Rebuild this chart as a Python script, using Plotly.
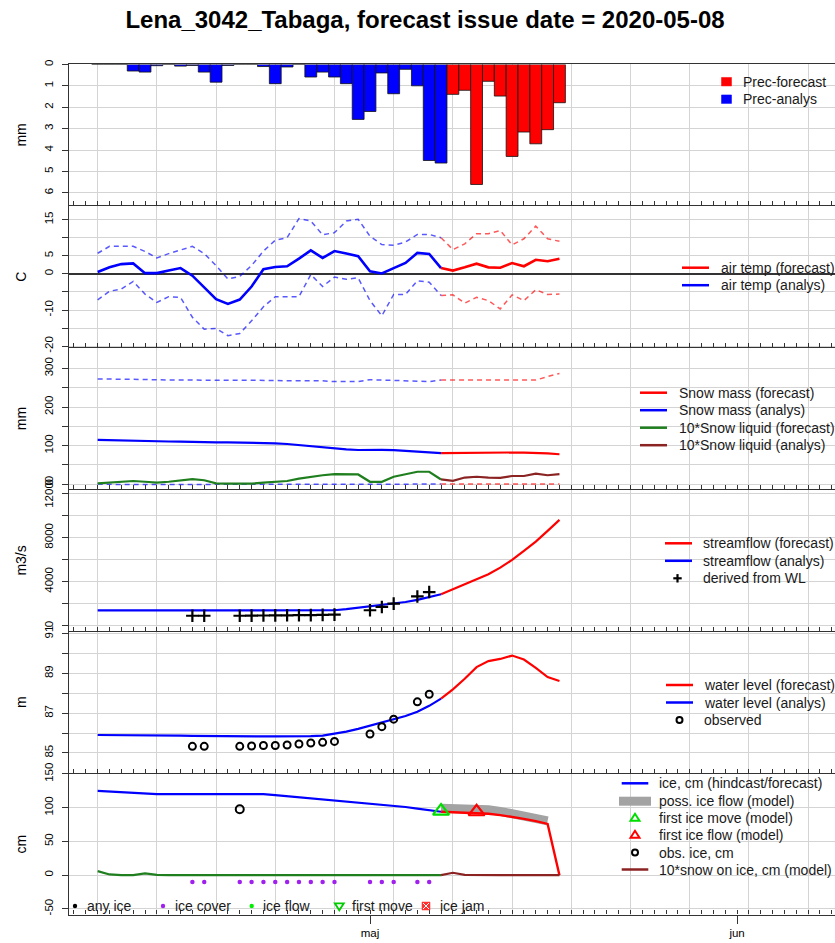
import pandas as pd
import plotly.graph_objects as go

# ---------------- data ----------------
an_dates = pd.date_range('2020-04-08', '2020-05-07', freq='D')        # analysis period
fc_dates = pd.date_range('2020-05-07', '2020-05-17', freq='D')        # forecast lines (joined at issue day)
fc_bar_dates = pd.date_range('2020-05-08', '2020-05-17', freq='D')    # forecast precipitation
band_dates = pd.date_range('2020-05-07', '2020-05-16', freq='D')      # possible ice flow
obs_dates = pd.to_datetime(['2020-04-16', '2020-04-17', '2020-04-20', '2020-04-21', '2020-04-22',
                            '2020-04-23', '2020-04-24', '2020-04-25', '2020-04-26', '2020-04-27',
                            '2020-04-28', '2020-05-01', '2020-05-02', '2020-05-03', '2020-05-05',
                            '2020-05-06'])
month_ticks = ['2020-05-01', '2020-06-01']
month_labels = ['maj', 'jun']

prec_an = [0, 0, 0, 0.31, 0.36, 0.06, 0, 0.08, 0.05, 0.36, 0.83, 0.05, 0, 0, 0.10, 0.90, 0.12, 0,
           0.59, 0.36, 0.59, 0.90, 2.57, 2.20, 0.40, 1.37, 0.23, 1.00, 4.49, 4.61]
prec_fc = [1.40, 1.21, 5.61, 0.79, 1.48, 4.30, 3.16, 3.71, 3.05, 1.79]

temp_an = [0.5, 1.8, 2.7, 2.9, 0.2, 0.2, 0.9, 1.6, -0.5, -3.9, -7.0, -8.3, -7.1, -3.5, 1.3, 1.9,
           2.1, 4.2, 6.5, 4.4, 6.3, 5.6, 4.9, 0.7, 0.1, 1.6, 3.0, 5.8, 5.5, 1.6]
temp_an_max = [5.7, 7.6, 7.6, 7.6, 6.2, 4.4, 5.6, 6.7, 7.6, 5.6, 2.3, -1.4, -0.7, 2.3, 6.3, 9.3,
               10.0, 15.3, 14.6, 10.8, 11.4, 14.6, 15.1, 10.4, 8.1, 7.9, 8.8, 10.9, 10.9, 10.0]
temp_an_min = [-7.2, -4.8, -4.2, -2.1, -5.6, -7.9, -6.3, -6.5, -12.0, -15.3, -15.1, -17.1, -16.5,
               -13.0, -9.1, -6.3, -6.3, -6.3, -0.2, -3.5, -0.9, -1.5, -1.1, -7.4, -11.6, -5.7,
               -5.7, -1.9, -2.3, -6.0]
temp_fc = [1.6, 0.9, 1.8, 2.8, 1.8, 1.7, 3.0, 2.1, 3.9, 3.5, 4.2]
temp_fc_max = [10.0, 6.7, 8.3, 11.1, 11.1, 12.0, 8.0, 9.7, 13.2, 9.7, 9.0]
temp_fc_min = [-6.0, -5.8, -8.1, -6.5, -7.4, -9.7, -5.8, -7.4, -4.4, -5.7, -5.6]

snow_an = [115, 114, 113, 112.5, 112, 111, 110.5, 110, 109, 108.5, 108.5, 108.5, 108, 107.5, 107,
           105.5, 104, 101, 98, 96, 93, 90, 88.5, 89, 89, 88, 86, 83, 81, 80.5]
snow_fc = [80.5, 81, 81, 81.5, 81.5, 82, 82, 81.5, 81, 79.5, 77.5]
snow_an_max = [273, 272, 272, 272, 271, 271, 270, 270, 270, 270, 269, 269, 269, 269, 269, 269, 268,
               268, 268, 268, 266, 266, 266, 271, 270, 270, 268, 267, 266, 270]
snow_fc_max = [270, 270, 270, 270, 270, 270, 270, 270, 270, 279, 287]
snow_an_min = [0, -1, -1, -1, -1, -1, -1, -1, -1, -1, -1, -1, -1, -1, -1, -1, -1, -1, -1, -1,
               -1, -1, -1, -1, -1, -1, -1, -1, -1, 0]
snow_fc_min = [0, 0, 0, 0, 0, 0, 0, 0, 0, 0, 0]
liq_an = [2, 4, 7, 8, 6, 4, 6, 10, 13, 10, 2, 1, 1, 1, 4, 6, 8, 14, 19, 23, 26, 26, 25, 6, 6, 19,
          25, 32, 32, 12]
liq_fc = [12, 8.5, 17, 19, 17, 16, 21, 21, 27, 23, 26]

flow_an = [1380, 1380, 1380, 1380, 1380, 1380, 1380, 1380, 1370, 1360, 1350, 1350, 1350, 1350,
           1350, 1350, 1350, 1350, 1360, 1370, 1400, 1500, 1620, 1750, 1860, 1980, 2150, 2340,
           2560, 2850]
flow_fc = [2850, 3300, 3700, 4150, 4670, 5270, 5970, 6790, 7640, 8610, 9610]
flow_wl = [900, 900, 900, 910, 920, 930, 940, 950, 960, 980, 1000, 1400, 1700, 2000, 2650, 3050]

wl_an = [85.90, 85.90, 85.90, 85.90, 85.90, 85.90, 85.88, 85.87, 85.86, 85.85, 85.84, 85.83,
         85.83, 85.83, 85.83, 85.83, 85.83, 85.83, 85.84, 85.87, 85.96, 86.07, 86.21, 86.37,
         86.52, 86.67, 86.86, 87.07, 87.37, 87.73]
wl_fc = [87.73, 88.20, 88.73, 89.32, 89.62, 89.73, 89.90, 89.70, 89.28, 88.82, 88.62]
wl_obs = [85.33, 85.33, 85.33, 85.35, 85.37, 85.37, 85.40, 85.45, 85.50, 85.53, 85.58, 85.95,
          86.32, 86.70, 87.57, 87.95]

ice_an = [125, 124, 122.5, 121.5, 120.5, 120, 120, 120, 120, 120, 120, 120, 120, 120, 120, 118.5,
          117, 115.5, 114, 112, 110.5, 109, 107.5, 105.5, 104, 102.5, 101, 98.5, 96, 94]
ice_fc = [94, 93.5, 93, 92.5, 91, 89, 86.5, 83.5, 80, 76, 0]
ice_band = [99, 99, 99, 98.5, 97, 94.5, 91.5, 88, 84.5, 80.5]
snowice_an = [6, 1, 0, 0, 2.5, 0.5, 0, 0, 0, 0, 0, 0, 0, 0, 0, 0, 0, 0, 0, 0, 0, 0, 0, 0, 0, 0,
              0, 0, 0, 0]
snowice_fc = [0, 3.5, 0.5, 0, 0, 0, 0, 0, 0, 0, 0]
ice_obs_dates = ['2020-04-20']
ice_obs = [97.8]
first_move_dates = ['2020-05-07']
first_move = [95]
first_flow_dates = ['2020-05-10']
first_flow = [94]
ice_cover = [-10, -10, -10, -10, -10, -10, -10, -10, -10, -10, -10, -10, -10, -10, -10, -10]

# ---------------- layout geometry ----------------
W, H = 835, 943
L, T, B = 69, 64, 28
PH = (H - T - B) / 6.0
DAY_MS = 86400000
x_range = [pd.Timestamp('2020-05-01') - pd.Timedelta(days=25.42),
           pd.Timestamp('2020-05-01') + pd.Timedelta(days=39.27)]

BLUE, RED = '#0000ff', '#ff0000'
GREEN, BROWN = '#1f7f1f', '#8b2323'
AX = '#333333'
GRID = '#d4d4d4'
LEG_FONT = 14


def ydom(i):
    top = T + i * PH
    bot = top + PH
    return [(H - B - bot + 0.4) / (H - T - B), (H - B - top - 0.4) / (H - T - B)]


def px(xp):
    return (xp - L) / (W - L)


def py(yp):
    return (H - B - yp) / (H - T - B)


fig = go.Figure()


def line(x, y, color, width=2.2, dash=None, opacity=1.0, n=1):
    fig.add_trace(go.Scatter(x=x, y=y, mode='lines', opacity=opacity,
                             line=dict(color=color, width=width, dash=dash),
                             xaxis='x' if n == 1 else 'x%d' % n,
                             yaxis='y' if n == 1 else 'y%d' % n,
                             showlegend=False, hoverinfo='skip'))


def pts(x, y, symbol, color, size, lw=2.0, n=1, xa=None):
    fig.add_trace(go.Scatter(x=x, y=y, mode='markers',
                             marker=dict(symbol=symbol, size=size, color=color,
                                         line=dict(color=color, width=lw)),
                             xaxis=xa if xa else ('x' if n == 1 else 'x%d' % n),
                             yaxis='y' if n == 1 else 'y%d' % n,
                             showlegend=False, hoverinfo='skip'))


# panel 1: precipitation
fig.add_trace(go.Bar(x=an_dates, y=prec_an, width=DAY_MS, marker=dict(color=BLUE, line=dict(color='#111', width=0.8)),
                     xaxis='x', yaxis='y', showlegend=False, hoverinfo='skip'))
fig.add_trace(go.Bar(x=fc_bar_dates, y=prec_fc, width=DAY_MS, marker=dict(color=RED, line=dict(color='#111', width=0.8)),
                     xaxis='x', yaxis='y', showlegend=False, hoverinfo='skip'))

# panel 2: air temperature
DASH = '5px,4px'
line(an_dates, temp_an_max, BLUE, 1.5, DASH, 0.65, 2)
line(an_dates, temp_an_min, BLUE, 1.5, DASH, 0.65, 2)
line(fc_dates, temp_fc_max, RED, 1.5, DASH, 0.65, 2)
line(fc_dates, temp_fc_min, RED, 1.5, DASH, 0.65, 2)
line(an_dates, temp_an, BLUE, 2.6, n=2)
line(fc_dates, temp_fc, RED, 2.6, n=2)

# panel 3: snow
line(an_dates, snow_an_max, BLUE, 1.5, DASH, 0.65, 3)
line(fc_dates, snow_fc_max, RED, 1.5, DASH, 0.65, 3)
line(an_dates, snow_an_min, BLUE, 1.5, DASH, 0.65, 3)
line(fc_dates, snow_fc_min, RED, 1.5, DASH, 0.65, 3)
line(an_dates, snow_an, BLUE, 2.2, n=3)
line(fc_dates, snow_fc, RED, 2.2, n=3)
line(an_dates, liq_an, GREEN, 2.2, n=3)
line(fc_dates, liq_fc, BROWN, 2.2, n=3)

# panel 4: streamflow
line(an_dates, flow_an, BLUE, 2.2, n=4)
line(fc_dates, flow_fc, RED, 2.2, n=4)
pts(obs_dates, flow_wl, 'cross-thin-open', 'black', 9, 2.2, n=4)

# panel 5: water level
line(an_dates, wl_an, BLUE, 2.2, n=5)
line(fc_dates, wl_fc, RED, 2.2, n=5)
pts(obs_dates, wl_obs, 'circle-open', 'black', 7, 2.0, n=5)

# panel 6: ice
line(an_dates, ice_an, BLUE, 2.2, n=6)
line(band_dates, ice_band, '#a3a3a3', 9, n=6)
line(fc_dates, ice_fc, RED, 2.4, n=6)
line(an_dates, snowice_an, GREEN, 2.2, n=6)
line(fc_dates, snowice_fc, BROWN, 2.2, n=6)
pts(ice_obs_dates, ice_obs, 'circle-open', 'black', 8, 2.0, n=6)
pts(first_move_dates, first_move, 'triangle-up-open', '#00dd00', 14, 2.2, n=6)
pts(first_flow_dates, first_flow, 'triangle-up-open', RED, 14, 2.2, n=6)
pts(obs_dates, ice_cover, 'circle', '#a020f0', 4.5, 0, n=6, xa='x7')

# ---------------- axes ----------------
xbase = dict(type='date', range=x_range, showline=True, mirror=True, linecolor=AX, linewidth=1.3,
             tickmode='linear', tick0='2020-04-08', dtick=5 * DAY_MS, ticks='inside', ticklen=4,
             tickcolor=AX, showticklabels=False, showgrid=True, gridcolor=GRID, gridwidth=1,
             zeroline=False,
             minor=dict(tick0='2020-04-08', dtick=DAY_MS, ticks='inside', ticklen=4, tickcolor=AX,
                        showgrid=False))

ybase = dict(showline=True, mirror=False, linecolor=AX, linewidth=1.3, ticks='outside', ticklen=6,
             tickcolor=AX, tickangle=-90, tickfont=dict(size=11.5, color='black'), showgrid=True,
             gridcolor=GRID, gridwidth=1, zeroline=False, automargin=False, tickmode='array',
             ticklabelstandoff=4)

y_specs = [
    dict(range=[6.59, 0], tickvals=[0, 1, 2, 3, 4, 5, 6], ticktext=['0', '1', '2', '3', '4', '5', '6'], title='mm'),
    dict(range=[-20.3, 18.7], tickvals=[-20, -15, -10, -5, 0, 5, 10, 15],
         ticktext=['-20', '', '-10', '', '0', '5', '', '15'], title='C'),
    dict(range=[-13, 353], tickvals=[0, 50, 100, 150, 200, 250, 300],
         ticktext=['0', '', '100', '', '200', '', '300'], title='mm'),
    dict(range=[-480, 12330], tickvals=[0, 2000, 4000, 6000, 8000, 10000, 12000],
         ticktext=['0', '', '4000', '', '8000', '', '12000'], title='m3/s'),
    dict(range=[84.0, 91.1], tickvals=[85, 86, 87, 88, 89, 90, 91],
         ticktext=['85', '', '87', '', '89', '', '91'], title='m'),
    dict(range=[-58.5, 150.6], tickvals=[-50, 0, 50, 100, 150],
         ticktext=['-50', '0', '50', '100', '150'], title='cm'),
]

layout = dict(width=W, height=H, margin=dict(l=L, r=0, t=T, b=B, pad=0),
              paper_bgcolor='white', plot_bgcolor='white', barmode='overlay', showlegend=False,
              font=dict(family='Liberation Sans, Arial, sans-serif', color='black'),
              hovermode=False,
              title=dict(text='<b>Lena_3042_Tabaga, forecast issue date = 2020-05-08</b>',
                         font=dict(size=24, color='black'), x=425 / W, xanchor='center',
                         y=1 - 20 / H, yanchor='middle', xref='container', yref='container'))

for i in range(6):
    n = i + 1
    xa = 'xaxis' if n == 1 else 'xaxis%d' % n
    ya = 'yaxis' if n == 1 else 'yaxis%d' % n
    xd = dict(xbase)
    xd['anchor'] = 'y' if n == 1 else 'y%d' % n
    if n > 1:
        xd['matches'] = 'x'
    layout[xa] = xd
    spec = y_specs[i]
    yd = dict(ybase)
    yd.update(domain=ydom(i), anchor='x' if n == 1 else 'x%d' % n, range=spec['range'],
              tickvals=spec['tickvals'], ticktext=spec['ticktext'],
              title=dict(text=spec['title'], font=dict(size=14, color='black'), standoff=13))
    if n == 2:
        yd.update(zeroline=True, zerolinecolor=AX, zerolinewidth=1.5)
    layout[ya] = yd

layout['xaxis7'] = dict(type='date', range=x_range, overlaying='x6', anchor='y6', side='bottom',
                        matches='x', tickmode='array', tickvals=month_ticks, ticktext=month_labels,
                        ticks='outside', ticklen=8, tickcolor=AX, tickwidth=1.2, showgrid=False,
                        showline=False, zeroline=False, tickfont=dict(size=11.5, color='black'))

# ---------------- hand-drawn legends ----------------
shapes, annots = [], []


def leg_line(x0, x1, y, color, width=2.5):
    shapes.append(dict(type='line', xref='paper', yref='paper', x0=px(x0), x1=px(x1),
                       y0=py(y), y1=py(y), line=dict(color=color, width=width)))


def leg_text(x, y, text, size=LEG_FONT):
    annots.append(dict(xref='paper', yref='paper', x=px(x), y=py(y), text=text, showarrow=False,
                       xanchor='left', yanchor='middle', font=dict(size=size, color='#1a1a1a')))


def leg_rect(cx, cy, w, h, color):
    shapes.append(dict(type='rect', xref='paper', yref='paper', x0=px(cx - w / 2), x1=px(cx + w / 2),
                       y0=py(cy + h / 2), y1=py(cy - h / 2), fillcolor=color, line=dict(color=color, width=0.5)))


def leg_circle(cx, cy, r, color, filled=False, width=2):
    shapes.append(dict(type='circle', xref='paper', yref='paper', x0=px(cx - r), x1=px(cx + r),
                       y0=py(cy + r), y1=py(cy - r), fillcolor=color if filled else 'rgba(0,0,0,0)',
                       line=dict(color=color, width=0 if filled else width)))


def leg_tri(cx, cy, s, color, up=True, width=2):
    if up:
        path = 'M %f,%f L %f,%f L %f,%f Z' % (px(cx - s), py(cy + s * 0.6), px(cx + s), py(cy + s * 0.6),
                                               px(cx), py(cy - s * 0.95))
    else:
        path = 'M %f,%f L %f,%f L %f,%f Z' % (px(cx - s), py(cy - s * 0.6), px(cx + s), py(cy - s * 0.6),
                                               px(cx), py(cy + s * 0.95))
    shapes.append(dict(type='path', xref='paper', yref='paper', path=path, line=dict(color=color, width=width)))


def leg_plus(cx, cy, s, color, width=2.2):
    shapes.append(dict(type='line', xref='paper', yref='paper', x0=px(cx - s), x1=px(cx + s),
                       y0=py(cy), y1=py(cy), line=dict(color=color, width=width)))
    shapes.append(dict(type='line', xref='paper', yref='paper', x0=px(cx), x1=px(cx),
                       y0=py(cy - s), y1=py(cy + s), line=dict(color=color, width=width)))


# panel 1
leg_rect(726.5, 81.7, 10, 8.5, RED)
leg_text(741, 81.7, 'Prec-forecast')
leg_rect(726.5, 99.2, 10, 8.5, BLUE)
leg_text(741, 99.2, 'Prec-analys')
# panel 2
leg_line(682, 709, 267.7, RED)
leg_text(719, 267.7, 'air temp (forecast)')
leg_line(682, 709, 285.2, BLUE)
leg_text(719, 285.2, 'air temp (analys)')
# panel 3
for k, (c, t) in enumerate([(RED, 'Snow mass (forecast)'), (BLUE, 'Snow mass (analys)'),
                            (GREEN, '10*Snow liquid (forecast)'), (BROWN, '10*Snow liquid (analys)')]):
    yy = 392.7 + k * 17.5
    leg_line(640, 667, yy, c)
    leg_text(676.5, yy, t)
# panel 4
leg_line(665, 692, 543.3, RED)
leg_text(700.5, 543.3, 'streamflow (forecast)')
leg_line(665, 692, 560.8, BLUE)
leg_text(700.5, 560.8, 'streamflow (analys)')
leg_plus(677.5, 578.3, 4.2, 'black')
leg_text(700.5, 578.3, 'derived from WL')
# panel 5
leg_line(666, 693, 685, RED)
leg_text(702, 685, 'water level (forecast)')
leg_line(666, 693, 702.5, BLUE)
leg_text(702, 702.5, 'water level (analys)')
leg_circle(679.5, 720, 3, 'black')
leg_text(702, 720, 'observed')
# panel 6 (right)
leg_line(621.7, 648.3, 783.3, BLUE)
leg_text(657, 783.3, 'ice, cm (hindcast/forecast)')
leg_line(619, 651, 801.2, '#a3a3a3', 9)
leg_text(657, 801.2, 'poss. ice flow (model)')
leg_tri(635, 818, 4.5, '#00dd00')
leg_text(657, 818, 'first ice move (model)')
leg_tri(635, 835, 4.5, RED)
leg_text(657, 835, 'first ice flow (model)')
leg_circle(635, 852.5, 3, 'black')
leg_text(657, 852.5, 'obs. ice, cm')
leg_line(621.7, 648.3, 869.5, BROWN)
leg_text(657, 869.5, '10*snow on ice, cm (model)')
# panel 6 (bottom row)
leg_circle(75, 906, 2.2, 'black', filled=True)
leg_text(85, 906, 'any ice')
leg_circle(163, 906, 2.2, '#a020f0', filled=True)
leg_text(173, 906, 'ice cover')
leg_circle(251.7, 906, 2.2, '#00ee00', filled=True)
leg_text(260.5, 906, 'ice flow')
leg_tri(339.3, 906, 4.5, '#00cc00', up=False, width=1.8)
leg_text(350, 906, 'first move')
leg_rect(426, 906, 8, 8, '#ff3030')
shapes.append(dict(type='line', xref='paper', yref='paper', x0=px(423), x1=px(429), y0=py(903), y1=py(909),
                   line=dict(color='white', width=1)))
shapes.append(dict(type='line', xref='paper', yref='paper', x0=px(423), x1=px(429), y0=py(909), y1=py(903),
                   line=dict(color='white', width=1)))
leg_text(438, 906, 'ice jam')

layout['shapes'] = shapes
layout['annotations'] = annots
fig.update_layout(layout)
fig.write_html('out.html', config={'displayModeBar': False},
               post_script="document.body.style.margin='0px';document.body.style.overflow='hidden';")
